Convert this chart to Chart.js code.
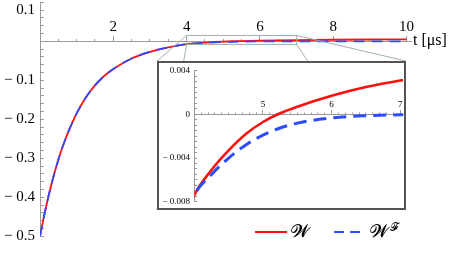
<!DOCTYPE html>
<html>
<head>
<meta charset="utf-8">
<script src="https://cdn.jsdelivr.net/npm/chart.js@4/dist/chart.umd.min.js"></script>
<style>
  html, body { margin: 0; padding: 0; background: #fff; }
  #wrap { position: relative; width: 453px; height: 254px; }
  #main { position: absolute; left: 0; top: 0; }
  #insetBox { position: absolute; left: 157px; top: 61px; width: 249px; height: 149px;
              box-sizing: border-box; border: 2px solid #555; background: #fff; }
  #inset { display: block; }
</style>
</head>
<body>
<div id="wrap">
  <canvas id="main" width="453" height="254"></canvas>
  <div id="insetBox"><canvas id="inset" width="245" height="145"></canvas></div>
</div>
<script>
// values (t in µs)
const tValues = [0, 0.1, 0.2, 0.3, 0.4, 0.5, 0.6, 0.8, 1.0, 1.25, 1.5, 1.75, 2.0, 2.5, 3.0, 3.5,
                 4.0, 4.25, 4.5, 4.75, 5.0, 5.25, 5.5, 6.0, 6.5, 7.0, 8.0, 9.0, 10.0];
const wValues = [-0.5, -0.453, -0.410, -0.371, -0.336, -0.304, -0.275, -0.226, -0.185, -0.144, -0.113, -0.089, -0.071, -0.044, -0.027, -0.0155,
                 -0.0074, -0.0051, -0.0033, -0.0018, -0.0007, 0.0001, 0.0007, 0.0017, 0.0025, 0.0031, 0.0040, 0.0046, 0.0050];
const wfValues = [-0.5, -0.453, -0.410, -0.371, -0.336, -0.304, -0.275, -0.226, -0.185, -0.144, -0.113, -0.089, -0.071, -0.044, -0.027, -0.0155,
                  -0.0074, -0.0055, -0.0040, -0.0028, -0.0019, -0.00125, -0.0008, -0.00032, -0.00012, -0.00004, 0, 0, 0];
const seriesNames = ["𝓦", "𝓦"];
const seriesSup = ["", "𝓕"];
const axisTitle = "t [μs]";

// main axes
const mainX = { min: 0, max: 10.12, minorStep: 0.5, majorStep: 2 };
const mainY = { min: -0.5, max: 0.1, minorStep: 0.02, labelEvery: 0.1 };
// inset axes + the zoom box drawn on the main plot
const insetX = { min: 4, max: 7.04, minorStep: 0.1, majorStep: 1 };
const insetY = { min: -0.008, max: 0.004, minorStep: 0.0005, labelEvery: 0.004 };
const zoomBox = { x0: 4, x1: 7, y0: -0.008, y1: 0.015 };

const RED = "#ff1010";
const BLUE = "#2d4bff";
const AXIS = "#9a9a9a";
const ZOOM = "#9fb0b0";
const SERIF = "'Liberation Serif', 'DejaVu Serif', serif";

function toXY(vals) {
  return tValues.map((t, i) => ({ x: t, y: vals[i] }));
}

function isMultiple(v, step) {
  return Math.abs(v / step - Math.round(v / step)) < 1e-6;
}

function yLabel(v, step, digits, showZero) {
  if (!isMultiple(v, step)) return "";
  if (Math.abs(v) < 1e-12) return showZero ? "0" : "";
  return (v < 0 ? "\u2212 " : "") + Math.abs(v).toFixed(digits);
}

// zoom rectangle, connector lines, axis title and legend on the main chart
const mainExtras = {
  id: "mainExtras",
  afterDraw(chart) {
    const ctx = chart.ctx;
    const xs = chart.scales.x, ys = chart.scales.y;
    const box = document.getElementById("insetBox");
    const bl = box.offsetLeft, bt = box.offsetTop, bw = box.offsetWidth, bh = box.offsetHeight;

    const rx0 = xs.getPixelForValue(zoomBox.x0), rx1 = xs.getPixelForValue(zoomBox.x1);
    const ry0 = ys.getPixelForValue(zoomBox.y1), ry1 = ys.getPixelForValue(zoomBox.y0);
    ctx.save();
    ctx.strokeStyle = ZOOM;
    ctx.lineWidth = 1;
    ctx.strokeRect(rx0, ry0, rx1 - rx0, ry1 - ry0);
    ctx.beginPath();
    ctx.moveTo(rx0, ry0); ctx.lineTo(bl, bt);
    ctx.moveTo(rx0, ry1); ctx.lineTo(bl, bt + bh);
    ctx.moveTo(rx1, ry0); ctx.lineTo(bl + bw, bt);
    ctx.moveTo(rx1, ry1); ctx.lineTo(bl + bw, bt + bh);
    ctx.stroke();

    // axis title at the end of the t axis
    ctx.fillStyle = "#000";
    ctx.font = "16px " + SERIF;
    ctx.textBaseline = "middle";
    ctx.textAlign = "left";
    ctx.fillText(axisTitle, chart.chartArea.right + 2, ys.getPixelForValue(0) - 1);

    // legend
    const ly = 232;
    const items = [
      { x: 255, ds: chart.data.datasets[0], i: 0 },
      { x: 334, ds: chart.data.datasets[1], i: 1 }
    ];
    items.forEach(it => {
      ctx.strokeStyle = it.ds.borderColor;
      ctx.lineWidth = 2;
      ctx.setLineDash(it.ds.borderDash ? [10, 6] : []);
      ctx.beginPath();
      ctx.moveTo(it.x, ly);
      ctx.lineTo(it.x + 32, ly);
      ctx.stroke();
      ctx.setLineDash([]);
      ctx.fillStyle = "#000";
      ctx.font = "18px 'DejaVu Sans', 'DejaVu Serif', 'Noto Sans', serif";
      ctx.textBaseline = "middle";
      const tx = it.x + 36;
      ctx.fillText(seriesNames[it.i], tx, ly);
      if (seriesSup[it.i]) {
        const w = ctx.measureText(seriesNames[it.i]).width;
        ctx.font = "11px 'DejaVu Sans', 'DejaVu Serif', 'Noto Sans', serif";
        ctx.fillText(seriesSup[it.i], tx + w + 1, ly - 4);
      }
    });
    ctx.restore();
  }
};

new Chart(document.getElementById("main"), {
  type: "line",
  data: {
    datasets: [
      { label: "W", data: toXY(wValues), borderColor: RED, borderWidth: 1.8, order: 1 },
      { label: "WF", data: toXY(wfValues), borderColor: BLUE, borderWidth: 1.8, borderDash: [11, 7], order: 0 }
    ]
  },
  options: {
    responsive: false,
    animation: false,
    elements: { point: { radius: 0 }, line: { cubicInterpolationMode: "monotone", fill: false } },
    plugins: { legend: { display: false }, tooltip: { enabled: false } },
    layout: { padding: { left: 0, right: 42, top: 2.3, bottom: 17.7 } },
    scales: {
      x: {
        type: "linear", position: { y: 0 }, min: mainX.min, max: mainX.max,
        ticks: { display: false, stepSize: mainX.minorStep, includeBounds: false, autoSkip: false },
        grid: { drawOnChartArea: false, tickLength: -3, color: AXIS },
        border: { color: AXIS }
      },
      x2: {
        type: "linear", position: { y: 0 }, min: mainX.min, max: mainX.max,
        ticks: {
          stepSize: mainX.majorStep, includeBounds: false, autoSkip: false, maxRotation: 0,
          padding: -18, color: "#000", font: { family: SERIF, size: 15 },
          callback: v => (v === 0 ? "" : String(v))
        },
        grid: { drawOnChartArea: false, tickLength: -5, color: AXIS },
        border: { display: false }
      },
      y: {
        type: "linear", position: "left", min: mainY.min, max: mainY.max,
        afterFit: s => { s.width = 40; s.paddingTop = 0; s.paddingBottom = 0; },
        ticks: {
          stepSize: mainY.minorStep, autoSkip: false, padding: 9, color: "#000",
          font: { family: SERIF, size: 15, lineHeight: 1.0 },
          callback: v => {
            const s = yLabel(v, mainY.labelEvery, 1, false);
            return Math.abs(v - mainY.max) < 1e-9 ? ["", s] : s;
          }
        },
        grid: { drawOnChartArea: false, tickLength: -4, color: AXIS },
        border: { color: AXIS }
      }
    }
  },
  plugins: [mainExtras]
});

new Chart(document.getElementById("inset"), {
  type: "line",
  data: {
    datasets: [
      { label: "W", data: toXY(wValues), borderColor: RED, borderWidth: 2.6, order: 1 },
      { label: "WF", data: toXY(wfValues), borderColor: BLUE, borderWidth: 3, borderDash: [13, 7], order: 0 }
    ]
  },
  options: {
    responsive: false,
    animation: false,
    elements: { point: { radius: 0 }, line: { cubicInterpolationMode: "monotone", fill: false } },
    plugins: { legend: { display: false }, tooltip: { enabled: false } },
    layout: { padding: { left: 0, right: 1, top: 7.7, bottom: 6.3 } },
    scales: {
      x: {
        type: "linear", position: { y: 0 }, min: insetX.min, max: insetX.max,
        ticks: { display: false, stepSize: insetX.minorStep, includeBounds: false, autoSkip: false },
        grid: { drawOnChartArea: false, tickLength: -2.5, color: AXIS },
        border: { color: AXIS }
      },
      x2: {
        type: "linear", position: { y: 0 }, min: insetX.min, max: insetX.max,
        ticks: {
          stepSize: insetX.majorStep, includeBounds: false, autoSkip: false, maxRotation: 0,
          padding: -10.9, color: "#000", font: { family: SERIF, size: 9 },
          callback: v => (v === insetX.min ? "" : String(v))
        },
        grid: { drawOnChartArea: false, tickLength: -4, color: AXIS },
        border: { display: false }
      },
      y: {
        type: "linear", position: "left", min: insetY.min, max: insetY.max,
        afterFit: s => { s.width = 35.3; s.paddingTop = 0; s.paddingBottom = 0; },
        ticks: {
          stepSize: insetY.minorStep, autoSkip: false, padding: 7.3, color: "#000",
          font: { family: SERIF, size: 9 },
          callback: v => yLabel(v, insetY.labelEvery, 3, true)
        },
        grid: { drawOnChartArea: false, tickLength: -3, color: AXIS },
        border: { color: AXIS }
      }
    }
  }
});
</script>
</body>
</html>
